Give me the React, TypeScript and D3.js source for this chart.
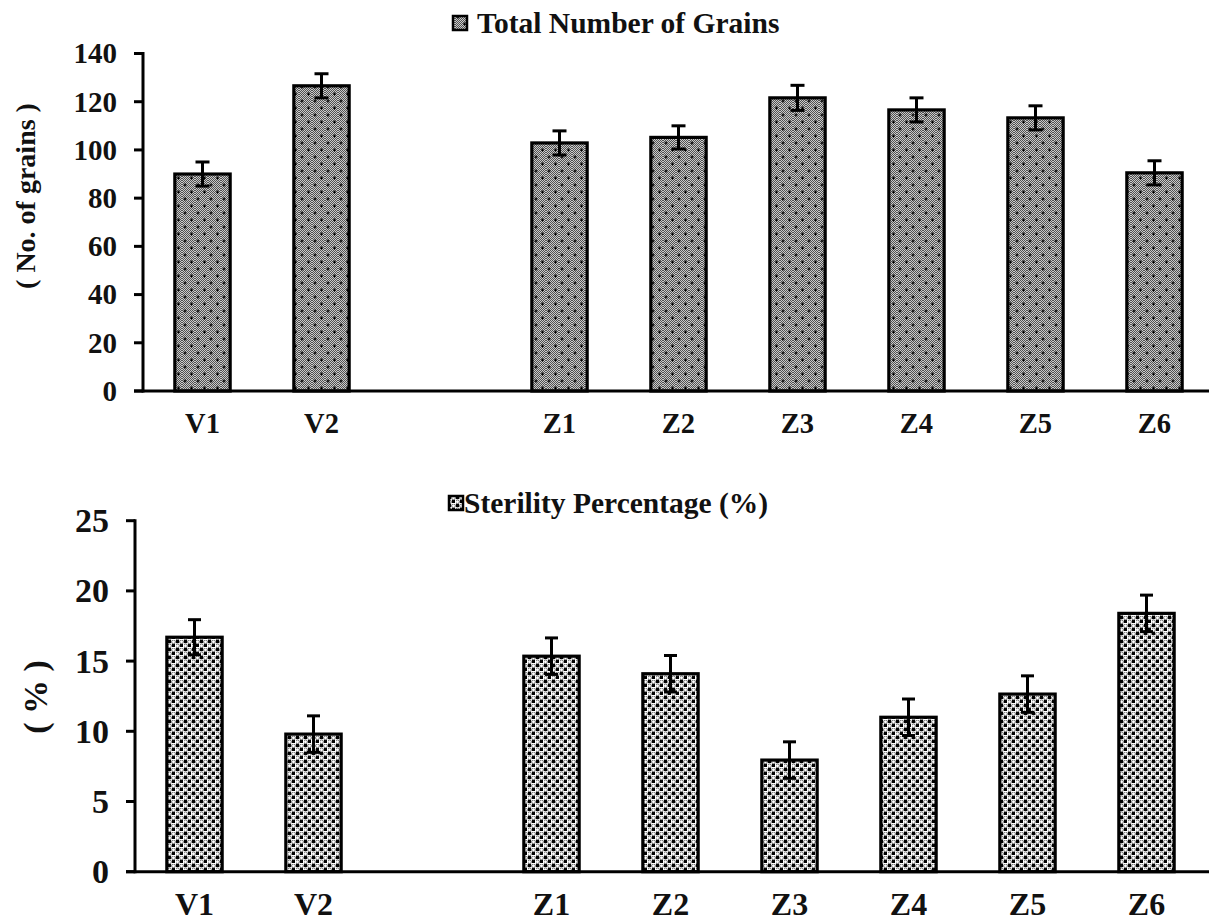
import React from "react";
import * as d3 from "d3";

const categories = ["V1", "V2", "gap", "Z1", "Z2", "Z3", "Z4", "Z5", "Z6"];
const grainValues = [90.0, 126.6, null, 102.9, 105.2, 121.6, 116.6, 113.3, 90.5];
const grainErrors = [5, 5, null, 5, 4.8, 5.2, 5, 5, 5];
const sterilityValues = [16.7, 9.8, null, 15.35, 14.1, 7.95, 11.0, 12.65, 18.4];
const sterilityErrors = [1.25, 1.3, null, 1.3, 1.3, 1.3, 1.3, 1.3, 1.3];
const grainTicks = [0, 20, 40, 60, 80, 100, 120, 140];
const sterilityTicks = [0, 5, 10, 15, 20, 25];

const FONT = "'Liberation Serif', 'Times New Roman', serif";

type PanelProps = {
  values: (number | null)[];
  errors: (number | null)[];
  ticks: number[];
  yMax: number;
  axisX: number;
  y0: number;
  yTop: number;
  pattern: string;
  title: string;
  titleX: number;
  titleY: number;
  legendX: number;
  yLabel: string;
  yLabelX: number;
  yLabelY: number;
  yLabelSize: number;
  tickSize: number;
  catSize: number;
  catY: number;
  capW: number;
};

function Panel(p: PanelProps) {
  const step = 119;
  const x = d3
    .scaleBand<string>()
    .domain(categories)
    .range([p.axisX, p.axisX + step * categories.length])
    .padding(0);
  const y = d3.scaleLinear().domain([0, p.yMax]).range([p.y0, p.yTop]);
  const bw = x.bandwidth() * 0.465;
  return (
    <g>
      {categories.map((c, i) => {
        const v = p.values[i];
        if (v == null) return null;
        const cx = (x(c) as number) + x.bandwidth() / 2;
        return (
          <rect
            key={c}
            x={cx - bw / 2}
            y={y(v)}
            width={bw}
            height={y(0) - y(v)}
            fill={`url(#${p.pattern})`}
            stroke="#000"
            strokeWidth={3.2}
          />
        );
      })}
      {categories.map((c, i) => {
        const v = p.values[i];
        const e = p.errors[i];
        if (v == null || e == null) return null;
        const cx = (x(c) as number) + x.bandwidth() / 2;
        return (
          <g key={"e" + c} stroke="#000" strokeWidth={3}>
            <line x1={cx} x2={cx} y1={y(v + e)} y2={y(v - e)} />
            <line x1={cx - p.capW / 2} x2={cx + p.capW / 2} y1={y(v + e)} y2={y(v + e)} />
            <line x1={cx - p.capW / 2} x2={cx + p.capW / 2} y1={y(v - e)} y2={y(v - e)} />
          </g>
        );
      })}
      <line x1={p.axisX} x2={p.axisX} y1={y(p.yMax) - 1.5} y2={y(0) + 1.5} stroke="#000" strokeWidth={3} />
      {p.ticks.map((t) => (
        <g key={t}>
          <line x1={p.axisX - 9} x2={p.axisX} y1={y(t)} y2={y(t)} stroke="#000" strokeWidth={3} />
          <text
            x={p.axisX - 26}
            y={y(t)}
            dy="0.34em"
            textAnchor="end"
            fontFamily={FONT}
            fontWeight="bold"
            fontSize={p.tickSize}
            fill="#111"
          >
            {t}
          </text>
        </g>
      ))}
      <line x1={p.axisX - 9} x2={1209} y1={y(0)} y2={y(0)} stroke="#000" strokeWidth={3} />
      {categories.map((c) =>
        c === "gap" ? null : (
          <text
            key={"l" + c}
            x={(x(c) as number) + x.bandwidth() / 2}
            y={p.catY}
            textAnchor="middle"
            fontFamily={FONT}
            fontWeight="bold"
            fontSize={p.catSize}
            fill="#111"
          >
            {c}
          </text>
        )
      )}
      <text
        transform={`translate(${p.yLabelX},${p.yLabelY}) rotate(-90)`}
        textAnchor="middle"
        dy="0.34em"
        fontFamily={FONT}
        fontWeight="bold"
        fontSize={p.yLabelSize}
        fill="#111"
      >
        {p.yLabel}
      </text>
      <rect
        x={p.legendX}
        y={p.titleY - 17}
        width={14}
        height={14}
        fill={`url(#${p.pattern})`}
        stroke="#000"
        strokeWidth={2.5}
      />
      <text x={p.titleX} y={p.titleY} fontFamily={FONT} fontWeight="bold" fontSize={29.5} fill="#111">
        {p.title}
      </text>
    </g>
  );
}

export default function App() {
  return (
    <svg
      width={1209}
      height={924}
      style={{ position: "absolute", left: 0, top: 0, background: "#fff" }}
    >
      <defs>
        <pattern id="checker" width={2} height={2} patternUnits="userSpaceOnUse">
          <rect width={2} height={2} fill="#fff" />
          <rect width={1} height={1} fill="#222" />
          <rect x={1} y={1} width={1} height={1} fill="#222" />
        </pattern>
        <pattern id="grainPat" width={13} height={14} patternUnits="userSpaceOnUse">
          <rect width={13} height={14} fill="#8a8a8a" />
          <rect width={13} height={14} fill="url(#checker)" opacity={0.55} />
          <path d="M3,1.5V4.5M1.5,3H4.5" stroke="#000" strokeWidth={1.2} />
          <path d="M9.5,8.5V11.5M8,10H11" stroke="#000" strokeWidth={1.2} />
        </pattern>
        <pattern id="sterPat" width={8} height={8} patternUnits="userSpaceOnUse">
          <rect width={8} height={8} fill="#fff" />
          <rect x={0} y={0} width={3} height={3} fill="#000" />
          <rect x={4} y={4} width={3} height={3} fill="#000" />
          <circle cx={5.5} cy={1.8} r={1.9} fill="#fff" stroke="#444" strokeWidth={0.8} />
          <circle cx={1.5} cy={5.8} r={1.9} fill="#fff" stroke="#444" strokeWidth={0.8} />
        </pattern>
      </defs>
      <Panel
        values={grainValues}
        errors={grainErrors}
        ticks={grainTicks}
        yMax={140}
        axisX={143}
        y0={391}
        yTop={53.5}
        pattern="grainPat"
        title="Total Number of Grains"
        titleX={477}
        titleY={33}
        legendX={453}
        yLabel="( No. of grains )"
        yLabelX={25}
        yLabelY={196}
        yLabelSize={28}
        tickSize={29}
        catSize={28.5}
        catY={433}
        capW={14}
      />
      <Panel
        values={sterilityValues}
        errors={sterilityErrors}
        ticks={sterilityTicks}
        yMax={25}
        axisX={135}
        y0={871.7}
        yTop={520.7}
        pattern="sterPat"
        title="Sterility Percentage (%)"
        titleX={464}
        titleY={513}
        legendX={449}
        yLabel="( % )"
        yLabelX={35}
        yLabelY={697}
        yLabelSize={34}
        tickSize={34}
        catSize={32}
        catY={915}
        capW={13}
      />
    </svg>
  );
}
